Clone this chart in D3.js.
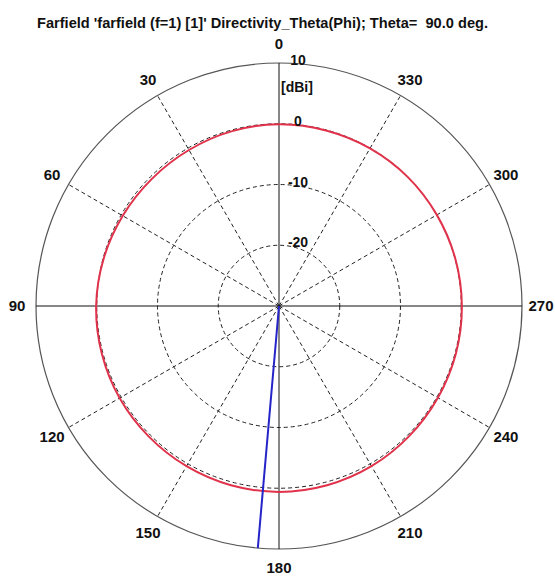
<!DOCTYPE html>
<html><head><meta charset="utf-8">
<script src="https://cdn.jsdelivr.net/npm/d3@7"></script>
<style>body{margin:0;background:#fff;} svg{display:block;} text{white-space:pre;}</style>
</head><body>
<svg id="chart" width="555" height="576"></svg>
<script>
const title = "Farfield 'farfield (f=1) [1]' Directivity_Theta(Phi); Theta=  90.0 deg.";
const angleTicks = [0, 30, 60, 90, 120, 150, 180, 210, 240, 270, 300, 330];
const radialTicks = [10, 0, -10, -20];
const unitLabel = "[dBi]";
const phi = [0,15,30,45,60,75,90,105,120,135,150,165,180,195,210,225,240,255,270,285,300,315,330,345,360];
const directivity = [-0.1,-0.2,-0.35,-0.4,-0.3,-0.1,0.1,0.2,0.3,0.35,0.45,0.55,0.6,0.55,0.45,0.3,0.2,0.15,0.1,0.05,0,0,-0.05,-0.1,-0.1];
const mainLobePhi = 175;

const svg = d3.select("#chart");
const cx = 279, cy = 306, R = 243;
const r = d3.scaleLinear().domain([-30, 10]).range([0, R]);
const toXY = (deg, rad) => {
  const a = deg * Math.PI / 180;
  return [cx - rad * Math.sin(a), cy - rad * Math.cos(a)];
};

// title
svg.append("text").attr("x", 262.5).attr("y", 28)
  .attr("text-anchor", "middle")
  .attr("xml:space", "preserve")
  .attr("font-family", "Liberation Sans, Arial, sans-serif")
  .attr("font-weight", "bold").attr("font-size", 15)
  .attr("textLength", 451).attr("lengthAdjust", "spacingAndGlyphs")
  .attr("fill", "#111").text(title);

const g = svg.append("g");

// dashed circles
g.selectAll("circle.grid").data(radialTicks.filter(d => d < 10)).enter()
  .append("circle").attr("class", "grid")
  .attr("cx", cx).attr("cy", cy).attr("r", d => r(d))
  .attr("fill", "none").attr("stroke", "#222").attr("stroke-width", 1)
  .attr("stroke-dasharray", "4,3");

// dashed spokes
g.selectAll("line.spoke").data(angleTicks.filter(d => d % 90 !== 0)).enter()
  .append("line").attr("class", "spoke")
  .attr("x1", cx).attr("y1", cy)
  .attr("x2", d => toXY(d, R)[0]).attr("y2", d => toXY(d, R)[1])
  .attr("stroke", "#222").attr("stroke-width", 1)
  .attr("stroke-dasharray", "4,3");

// outer circle
g.append("circle").attr("cx", cx).attr("cy", cy).attr("r", r(10))
  .attr("fill", "none").attr("stroke", "#555").attr("stroke-width", 1.2);

// solid axes
g.selectAll("line.axis").data([0, 90]).enter()
  .append("line").attr("class", "axis")
  .attr("x1", d => toXY(d, R)[0]).attr("y1", d => toXY(d, R)[1])
  .attr("x2", d => toXY(d + 180, R)[0]).attr("y2", d => toXY(d + 180, R)[1])
  .attr("stroke", "#111").attr("stroke-width", 1);

// red pattern
const line = d3.lineRadial()
  .angle(d => -d[0] * Math.PI / 180)
  .radius(d => r(d[1]))
  .curve(d3.curveCardinalClosed);
g.append("path")
  .datum(phi.slice(0, -1).map((p, i) => [p, directivity[i]]))
  .attr("transform", `translate(${cx},${cy})`)
  .attr("d", line)
  .attr("fill", "none").attr("stroke", "#e0324a").attr("stroke-width", 2);

// main lobe line
g.append("line")
  .attr("x1", cx).attr("y1", cy)
  .attr("x2", toXY(mainLobePhi, R)[0]).attr("y2", toXY(mainLobePhi, R)[1])
  .attr("stroke", "#2424c8").attr("stroke-width", 2);

// angle labels
g.selectAll("text.ang").data(angleTicks).enter()
  .append("text").attr("class", "ang")
  .attr("x", d => toXY(d, 262)[0]).attr("y", d => toXY(d, 262)[1])
  .attr("dy", "0.36em").attr("text-anchor", "middle")
  .attr("font-family", "Liberation Sans, Arial, sans-serif")
  .attr("font-weight", "bold").attr("font-size", 15)
  .attr("fill", "#111").text(d => d);

// radial labels
g.selectAll("text.rad").data(radialTicks).enter()
  .append("text").attr("class", "rad")
  .attr("x", cx + 19).attr("y", d => cy - r(d) - 3)
  .attr("dy", "0.36em").attr("text-anchor", "middle")
  .attr("font-family", "Liberation Sans, Arial, sans-serif")
  .attr("font-weight", "bold").attr("font-size", 14)
  .attr("fill", "#111").text(d => d);

g.append("text").attr("x", cx + 18).attr("y", cy - r(10) + 24)
  .attr("dy", "0.36em").attr("text-anchor", "middle")
  .attr("font-family", "Liberation Sans, Arial, sans-serif")
  .attr("font-weight", "bold").attr("font-size", 14)
  .attr("fill", "#111").text(unitLabel);
</script>
</body></html>
